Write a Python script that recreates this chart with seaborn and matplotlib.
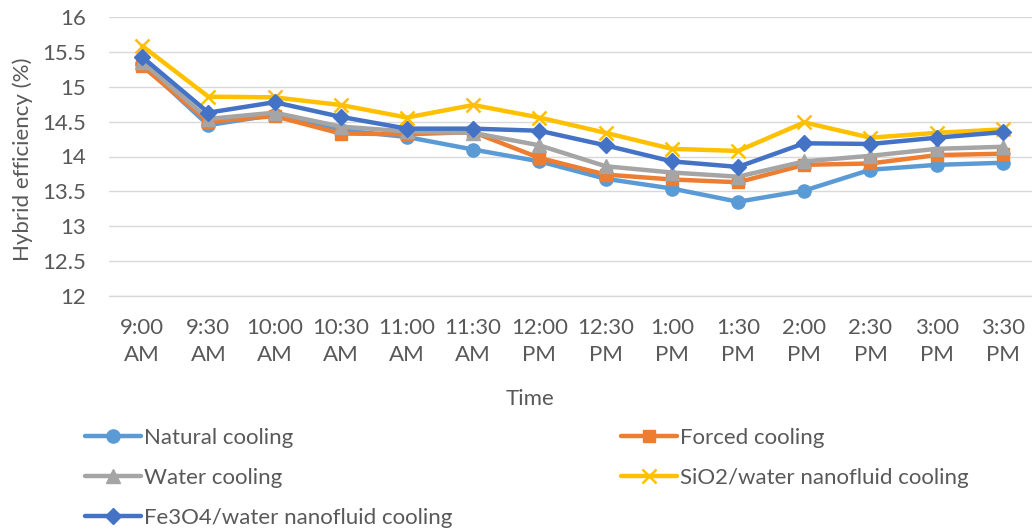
import matplotlib
matplotlib.use("Agg")
import matplotlib.pyplot as plt
import seaborn as sns
import numpy as np

# Time of day (two-line category labels)
times = ["9:00\nAM", "9:30\nAM", "10:00\nAM", "10:30\nAM", "11:00\nAM", "11:30\nAM",
         "12:00\nPM", "12:30\nPM", "1:00\nPM", "1:30\nPM", "2:00\nPM", "2:30\nPM",
         "3:00\nPM", "3:30\nPM"]

# Hybrid efficiency (%) for each cooling method
natural = [15.33, 14.45, 14.60, 14.38, 14.28, 14.10, 13.93, 13.68, 13.54, 13.35, 13.51, 13.81, 13.88, 13.91]
forced = [15.30, 14.50, 14.58, 14.33, 14.32, 14.35, 13.98, 13.74, 13.67, 13.63, 13.88, 13.90, 14.02, 14.04]
water = [15.36, 14.54, 14.63, 14.43, 14.36, 14.34, 14.16, 13.86, 13.77, 13.71, 13.93, 14.01, 14.11, 14.14]
sio2 = [15.59, 14.86, 14.85, 14.74, 14.56, 14.74, 14.56, 14.34, 14.11, 14.08, 14.49, 14.27, 14.34, 14.39]
fe3o4 = [15.43, 14.63, 14.78, 14.57, 14.40, 14.40, 14.37, 14.16, 13.93, 13.85, 14.19, 14.18, 14.27, 14.35]

series_names = ["Natural cooling", "Forced cooling", "Water cooling",
                "SiO2/water nanofluid cooling", "Fe3O4/water nanofluid cooling"]
yticks = [12, 12.5, 13, 13.5, 14, 14.5, 15, 15.5, 16]

sns.set_theme(style="white")
plt.rcParams["font.family"] = ["Lato", "DejaVu Sans"]

TEXT = "#595959"
GRID = "#D9D9D9"
FS = 16

W, H = 1032, 529
fig = plt.figure(figsize=(W / 100, H / 100), dpi=100)
ax = fig.add_axes([109 / W, (H - 295.7) / H, 927 / W, (295.7 - 17.3) / H])

x = np.arange(len(times))
styles = [
    (natural, "#5B9BD5", "o", 9.5, 1.0),
    (forced, "#ED7D31", "s", 9.0, 1.0),
    (water, "#A5A5A5", "^", 10.0, 1.0),
    (sio2, "#FFC000", "x", 10.0, 1.8),
    (fe3o4, "#4472C4", "D", 8.5, 1.0),
]
for name, (vals, col, mk, ms, mew) in zip(series_names, styles):
    sns.lineplot(x=x, y=vals, ax=ax, color=col, linewidth=3.2, marker=mk,
                 markersize=ms, markeredgecolor=col, markerfacecolor=col,
                 markeredgewidth=mew, label=name, legend=False)

ax.set_xlim(-0.5, len(times) - 0.5)
ax.set_ylim(12, 16)
ax.set_yticks(yticks)
ax.set_yticklabels([f"{v:g}" for v in yticks])
ax.set_xticks(x)
ax.set_xticklabels(times, linespacing=1.45)
ax.grid(axis="y", color=GRID, linewidth=1.0)
ax.grid(axis="x", visible=False)
ax.set_axisbelow(True)
for s in ["top", "left", "right"]:
    ax.spines[s].set_visible(False)
ax.spines["bottom"].set_color(GRID)
ax.spines["bottom"].set_linewidth(1.0)
ax.tick_params(axis="both", length=0, labelsize=FS, labelcolor=TEXT)
ax.tick_params(axis="y", pad=16.5)
ax.tick_params(axis="x", pad=16)

ax.set_ylabel("Hybrid efficiency (%)", fontsize=FS, color=TEXT)
ax.yaxis.set_label_coords(-0.082, 0.49)
ax.set_xlabel("Time", fontsize=FS, color=TEXT)
ax.xaxis.set_label_coords(0.454, -0.335)

handles, labels = ax.get_legend_handles_labels()
common = dict(loc="upper left", frameon=False, fontsize=FS, labelcolor=TEXT,
              handlelength=2.5, handletextpad=0.15, labelspacing=0.9,
              borderpad=0, borderaxespad=0)
leg1 = fig.legend([handles[0], handles[2], handles[4]],
                  [labels[0], labels[2], labels[4]],
                  bbox_to_anchor=(85 / W, (H - 428) / H), **common)
leg2 = fig.legend([handles[1], handles[3]], [labels[1], labels[3]],
                  bbox_to_anchor=(621 / W, (H - 428) / H), **common)

fig.savefig("out.png", dpi=100)
